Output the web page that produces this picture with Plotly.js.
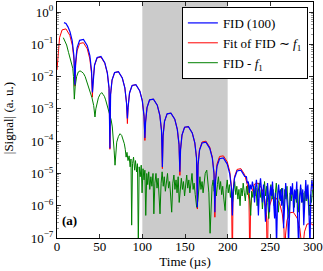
<!DOCTYPE html>
<html><head><meta charset="utf-8">
<script src="https://cdn.plot.ly/plotly-3.0.1.min.js"></script>
<style>html,body{margin:0;padding:0;background:#fff;}#chart{width:323px;height:271px;}</style>
</head><body><div id="chart"></div>
<script>
// FID (100) – measured signal
const tFid = [8.2,10.5,13.0,15.2,17.8,19.8,21.0,
 21.8,23.5,26.5,31.0,35.5,38.5,40.5,41.5,
 42.3,44.0,47.0,51.5,56.0,59.0,61.0,62.0,
 62.8,64.5,67.5,72.0,76.5,79.5,81.5,82.5,
 83.3,85.0,88.0,92.5,97.0,100.0,102.0,103.0,
 103.8,105.5,108.5,113.0,117.5,120.5,122.5,123.5,
 124.3,126.0,129.0,133.5,138.0,141.0,143.0,144.0,
 144.8,146.5,149.5,154.0,158.5,161.5,163.5,164.5,
 165.3,167.0,170.0,174.5,179.0,182.0,184.0,185.0,
 185.8,187.5,190.5,195.0,199.5,202.5,204.5,205.5,
 206.3,208.0,211.0,215.5,220.0,
 222,223,224.2,225.5,226.5,227.8,229,230.3,231.5,232.5,233.7,235,236,237.2,238.5,239.5,240.8,242,243,244.3,
 245.5,246.7,248,249,250.2,251.5,252.5,253.8,255,256,257.3,258.5,259.7,261,262,263.2,264.5,265.5,266.8,268,
 269.2,270.3,271.3,272.5,273.7,275,276,277.3,278.5,279.7,281,282,283.2,284.5,285.5,286.8,288,289.2,290.3,291.5,
 292.7,294,295,296.5,297.5,298.7,300];
const fid = [4.7e-1,4.4e-1,3.4e-1,2.45e-1,1.3e-1,4.5e-2,5.6e-3,
 2.75e-2,7.8e-2,1.33e-1,1.41e-1,9.1e-2,4.5e-2,1.5e-2,3.2e-3,
 8.1e-3,2.3e-2,3.9e-2,4.2e-2,2.7e-2,1.3e-2,4.4e-3,6.0e-5,
 2.8e-3,7.8e-3,1.33e-2,1.41e-2,9.1e-3,4.5e-3,1.5e-3,5.0e-4,
 1.1e-3,3.1e-3,5.3e-3,5.6e-3,3.6e-3,1.78e-3,5.9e-4,1.26e-4,
 3.9e-4,1.1e-3,1.9e-3,2.0e-3,1.3e-3,6.3e-4,2.1e-4,1.58e-5,
 1.45e-4,4.1e-4,7.0e-4,7.4e-4,4.8e-4,2.3e-4,7.8e-5,1.12e-5,
 5.5e-5,1.55e-4,2.7e-4,2.8e-4,1.8e-4,8.9e-5,3.0e-5,8.9e-7,
 1.8e-5,5.2e-5,8.8e-5,9.3e-5,6.0e-5,3.0e-5,9.8e-6,6.3e-7,
 5.9e-6,1.66e-5,2.85e-5,3.0e-5,1.95e-5,9.5e-6,3.2e-6,5.0e-7,
 2.5e-6,7.1e-6,1.19e-5,1.26e-5,8.1e-6,
 7.9e-6,5.0e-6,5.6e-6,2.5e-6,4.5e-6,3.2e-6,5.6e-6,3.5e-6,1.26e-6,3.2e-6,6.3e-6,2.5e-6,5.0e-7,3.2e-6,7.1e-6,3.5e-6,1.26e-6,4.5e-6,2.0e-6,3.2e-7,
 2.5e-6,5.0e-6,1.6e-6,6.3e-7,4.0e-6,2.0e-6,5.6e-6,1.26e-6,4.0e-7,2.5e-6,5.0e-8,2.0e-6,4.5e-6,1.6e-6,3.2e-6,1.0e-6,3.5e-6,2.0e-7,2.5e-6,5.0e-6,
 1.8e-6,7.9e-7,6.3e-8,1.26e-6,4.0e-6,2.2e-6,5.0e-6,6.3e-7,3.2e-6,1.6e-6,5.6e-6,4.0e-7,5.0e-8,2.0e-6,4.5e-6,1.26e-6,3.2e-6,2.5e-7,2.0e-6,6.3e-6,
 1.6e-6,4.5e-6,1.0e-6,5.0e-8,2.5e-6,6.3e-6,3.2e-6];

// Fit of FID ~ f1
const tFit = [0,1.3,3.0,6.0,10.5,15.0,18.0,20.0,21.0,
 21.8,23.5,26.5,31.0,35.5,38.5,40.5,41.5,
 42.3,44.0,47.0,51.5,56.0,59.0,61.0,62.0,
 62.8,64.5,67.5,72.0,76.5,79.5,81.5,82.5,
 83.3,85.0,88.0,92.5,97.0,100.0,102.0,103.0,
 103.8,105.5,108.5,113.0,117.5,120.5,122.5,123.5,
 124.3,126.0,129.0,133.5,138.0,141.0,143.0,144.0,
 144.8,146.5,149.5,154.0,158.5,161.5,163.5,164.5,
 165.3,167.0,170.0,174.5,179.0,182.0,184.0,185.0,
 185.8,187.5,190.5,195.0,199.5,202.5,204.5,205.5,
 206.3,208.0,211.0,215.5,220.0,223.0,225.0,226.0,
 226.8,228.5,231.5,236.0,240.5,243.5,245.5,246.5,
 247.3,249.0,252.0,256.5,261.0,264.0,266.0,267.0,
 267.8,269.5,272.5,277.0,281.5,284.5,286.5,287.5,
 288.3,290.0,293.0,297.5,300.0];
const fit = [1.6e-2,5.8e-2,1.6e-1,2.8e-1,3.0e-1,1.9e-1,9.3e-2,3.1e-2,5.0e-3,
 2.2e-2,6.2e-2,1.06e-1,1.12e-1,7.2e-2,3.5e-2,1.2e-2,2.3e-3,
 7.8e-3,2.2e-2,3.8e-2,4.0e-2,2.6e-2,1.26e-2,4.2e-3,5.6e-5,
 2.8e-3,7.8e-3,1.33e-2,1.41e-2,9.1e-3,4.5e-3,1.5e-3,3.5e-4,
 1.1e-3,3.1e-3,5.3e-3,5.6e-3,3.6e-3,1.78e-3,5.9e-4,1.05e-4,
 3.9e-4,1.1e-3,1.9e-3,2.0e-3,1.3e-3,6.3e-4,2.1e-4,1.41e-5,
 1.45e-4,4.1e-4,7.0e-4,7.4e-4,4.8e-4,2.3e-4,7.8e-5,8.7e-6,
 5.5e-5,1.55e-4,2.7e-4,2.8e-4,1.8e-4,8.9e-5,3.0e-5,7.9e-7,
 1.95e-5,5.5e-5,9.4e-5,1.0e-4,6.5e-5,3.2e-5,1.05e-5,4.4e-7,
 6.9e-6,1.95e-5,3.35e-5,3.5e-5,2.3e-5,1.12e-5,3.7e-6,1e-8,
 2.75e-6,7.8e-6,1.33e-5,1.41e-5,9.1e-6,4.5e-6,1.5e-6,1e-8,
 9.8e-7,2.75e-6,4.7e-6,5.0e-6,3.2e-6,1.58e-6,5.2e-7,1e-8,
 3.5e-7,9.8e-7,1.7e-6,1.78e-6,1.15e-6,5.6e-7,1.9e-7,1e-8,
 1.23e-7,3.5e-7,6.0e-7,6.3e-7,4.1e-7,2.0e-7,6.6e-8,1e-8,
 5.5e-8,1.55e-7,2.7e-7,2.8e-7,2.5e-7];

// FID - f1 residual
const tRes = [7.4,9,11.3,13.5,15.2,17.2,18.5,19.3,20.3,21.3,23,25,27,29,31,33,35,37,39,41,43,44.5,45.5,46.5,48.5,
 50.4,52.4,54,55.5,57,58.2,60,62.1,63.5,64.8,66,67,68,69,70,72,73.9,75.8,77.5,78.9,80,
 81,82,83.2,84.5,85.7,86.7,87.5,88.5,89.7,91,92,93.2,94.3,95.3,96.3,97.5,98.7,99.7,100.8,102,103,104,105.2,106.3,
 107.5,108.7,110,111.2,112.5,113.5,114.7,116,117.2,118.5,119.7,120.7,122,123.2,124.5,125.7,127,128.2,129.5,130.7,
 132,133.2,134.4,135.7,137,138.2,139.5,140.7,142,143.2,144.5,145.7,147,148.2,149.5,150.7,152,153.2,154.5,155.7,
 157,158.2,159.5,160.7,162,163.7,165,166.2,167.5,168.7,170,171.2,172.5,173.7,175.5,176.7,178,179.4,180.5,181.7,
 183,184.2,185.5,186.7,188,189.2,190.5,191.7,193,194.2,195.5,197,198.2,199.5,200.7,202,203.2,204.5,205.7,207,
 208.2,209.5,210.7,212,213.2,214.5,215.7,217,218.2,219.5,220.7,222,223.2,224.5,225.7,227,228.2,229.5,230.7,232,
 233.2,234.5,235.7,237,238.2,239.5,240.7,242,243.2,244.5,245.7,247,248.2,249.5,250.7,252,253.2,254.5,255.7,257,
 258.2,259.5,260.7,262,263.2,264.5,265.7,267,268.2,269.5,270.7,272,273.2,274.5,275.7,277,278.2,279.5,280.7,282,
 283.2,284.5,285.7,287,288.2,289.5,290.7,292,293.2,294.5,295.7,297,298.2,299.5];
const res = [1.6e-1,1.3e-1,9.5e-2,5.6e-2,3.6e-2,2.5e-2,1.8e-2,1.0e-2,2.0e-3,5.0e-3,1.0e-2,1.4e-2,1.5e-2,1.4e-2,1.26e-2,1.0e-2,7.1e-3,4.8e-3,3.2e-3,2.2e-3,1.26e-3,5.6e-4,1.0e-3,1.45e-3,2.2e-3,
 2.8e-3,3.2e-3,2.8e-3,2.45e-3,1.9e-3,1.45e-3,1.05e-3,7.1e-4,4.5e-4,2.75e-4,1.26e-4,5.0e-5,1.8e-5,5.0e-5,9.3e-5,1.4e-4,1.7e-4,1.5e-4,1.12e-4,8.3e-5,5.6e-5,
 3.2e-5,4.5e-5,2.5e-5,3.5e-5,1.6e-5,2.8e-5,2.5e-7,2.0e-5,3.2e-5,1.26e-5,2.5e-5,1.12e-5,2.0e-5,6.3e-8,1.6e-5,7.9e-6,1.8e-5,2.5e-6,1.4e-5,6.3e-6,1.26e-5,5.0e-7,1.0e-5,4.5e-6,
 1.12e-5,3.2e-6,7.9e-6,4.0e-6,1.0e-5,5.6e-7,5.0e-6,1.0e-5,3.5e-6,7.1e-6,2.5e-6,5.6e-7,5.0e-6,1.12e-5,4.0e-6,7.9e-6,2.8e-6,6.3e-6,1.0e-5,3.5e-6,
 5.6e-6,2.0e-6,6.3e-7,5.0e-6,8.9e-6,3.2e-6,6.3e-6,2.5e-6,7.9e-6,1.26e-6,4.5e-6,7.1e-6,3.2e-6,5.6e-6,2.0e-6,5.0e-6,8.9e-6,3.5e-6,6.3e-6,2.5e-6,
 4.5e-6,1.0e-5,3.2e-6,5.0e-6,2.2e-6,8.9e-7,1.4e-6,4.5e-6,7.9e-6,3.2e-6,5.6e-6,2.5e-6,5.0e-6,1.0e-5,1.26e-5,5.0e-6,2.5e-6,1.4e-7,1.0e-6,4.0e-6,
 6.3e-6,2.8e-6,5.0e-6,2.0e-6,4.5e-6,7.9e-6,3.2e-6,5.6e-6,2.2e-6,4.0e-6,1.6e-6,7.1e-7,3.2e-6,6.3e-6,2.5e-6,4.5e-6,1.8e-6,3.5e-6,1.26e-6,3.2e-6,
 5.6e-6,2.2e-6,4.0e-6,1.6e-6,3.2e-6,1.0e-6,3.5e-6,2.0e-6,5.0e-6,2.5e-6,1.4e-6,4.0e-6,2.2e-6,5.0e-6,1.26e-6,5.0e-7,2.8e-6,1.8e-6,4.0e-6,2.0e-6,
 3.5e-6,1.0e-6,2.5e-6,5.0e-6,1.8e-6,3.2e-6,7.9e-7,3.5e-6,5.6e-6,2.0e-6,4.0e-6,1.26e-6,4.0e-7,2.5e-6,4.5e-6,1.6e-6,3.2e-6,1.0e-6,2.5e-6,5.0e-6,
 1.8e-6,6.3e-7,2.8e-6,1.4e-6,3.5e-6,2.0e-6,7.9e-7,3.2e-6,1.6e-6,4.0e-6,1.12e-6,4.0e-7,2.5e-6,1.4e-6,3.5e-6,1.8e-6,8.9e-7,2.8e-6,1.26e-6,3.2e-6,
 6.3e-7,2.0e-6,3.5e-6,1.26e-6,2.5e-6,7.9e-7,2.8e-6,1.4e-6,4.0e-6,1.12e-6,5.0e-7,2.2e-6,1.26e-6,3.2e-6];

const xTickVals = [0,50,100,150,200,250,300];
const yTickVals = [1,1e-1,1e-2,1e-3,1e-4,1e-5,1e-6,1e-7];
const yTickText = ['10<sup>0</sup>','10<sup>−1</sup>','10<sup>−2</sup>','10<sup>−3</sup>','10<sup>−4</sup>','10<sup>−5</sup>','10<sup>−6</sup>','10<sup>−7</sup>'];
const shadeStart = 100, shadeEnd = 200;

const FONT = '"Liberation Serif", "Times New Roman", serif';

const traces = [
  {x: tFit, y: fit, type: 'scatter', mode: 'lines', name: 'Fit of FID ∼ <i>f</i><sub>1</sub>',
   line: {color: '#ff0000', width: 1}, legendrank: 2},
  {x: tRes, y: res, type: 'scatter', mode: 'lines', name: 'FID - <i>f</i><sub>1</sub>',
   line: {color: '#008000', width: 1}, legendrank: 3},
  {x: tFid, y: fid, type: 'scatter', mode: 'lines', name: 'FID (100)',
   line: {color: '#0000ff', width: 1.2}, legendrank: 1}
];

const axisCommon = {
  showgrid: false, zeroline: false, showline: true, linecolor: '#000', linewidth: 1,
  mirror: 'ticks', ticks: 'inside', ticklen: 4, tickcolor: '#000', tickwidth: 0.8,
  tickfont: {family: FONT, size: 13, color: '#000'}
};

const layout = {
  width: 323, height: 271,
  margin: {l: 57, r: 10, t: 2, b: 33},
  paper_bgcolor: '#fff', plot_bgcolor: '#fff',
  font: {family: FONT, size: 13, color: '#000'},
  showlegend: true,
  legend: {x: 0.98, y: 0.979, xanchor: 'right', yanchor: 'top',
    bgcolor: '#fff', bordercolor: '#000', borderwidth: 1,
    font: {family: FONT, size: 13, color: '#000'}, tracegroupgap: 0},
  xaxis: Object.assign({}, axisCommon, {
    range: [0, 300], tickmode: 'array', tickvals: xTickVals,
    ticklabelstandoff: -4,
    title: {text: 'Time (µs)', font: {family: FONT, size: 13}, standoff: 2},
    automargin: false
  }),
  yaxis: Object.assign({}, axisCommon, {
    type: 'log', range: [-7, 0.31], tickmode: 'array', tickvals: yTickVals, ticktext: yTickText,
    minor: {dtick: 'D1', ticks: 'inside', ticklen: 2, tickcolor: '#555', tickwidth: 0.6, showgrid: false},
    automargin: false
  }),
  shapes: [{type: 'rect', xref: 'x', yref: 'paper', x0: shadeStart, x1: shadeEnd, y0: 0, y1: 1,
    fillcolor: '#cbcbcb', line: {width: 0}, layer: 'below'}],
  annotations: [
    {text: '<b>(a)</b>', xref: 'paper', yref: 'paper', x: 0.012, y: 0.076,
     xanchor: 'left', yanchor: 'middle', showarrow: false, font: {family: FONT, size: 13, color: '#000'}},
    {text: '|Signal| (a. u.)', xref: 'paper', yref: 'paper', x: -0.191, y: 0.508, textangle: -90,
     xanchor: 'center', yanchor: 'middle', showarrow: false, font: {family: FONT, size: 13, color: '#000'}}
  ]
};

Plotly.newPlot('chart', traces, layout, {displayModeBar: false, staticPlot: true});
</script>
</body></html>
